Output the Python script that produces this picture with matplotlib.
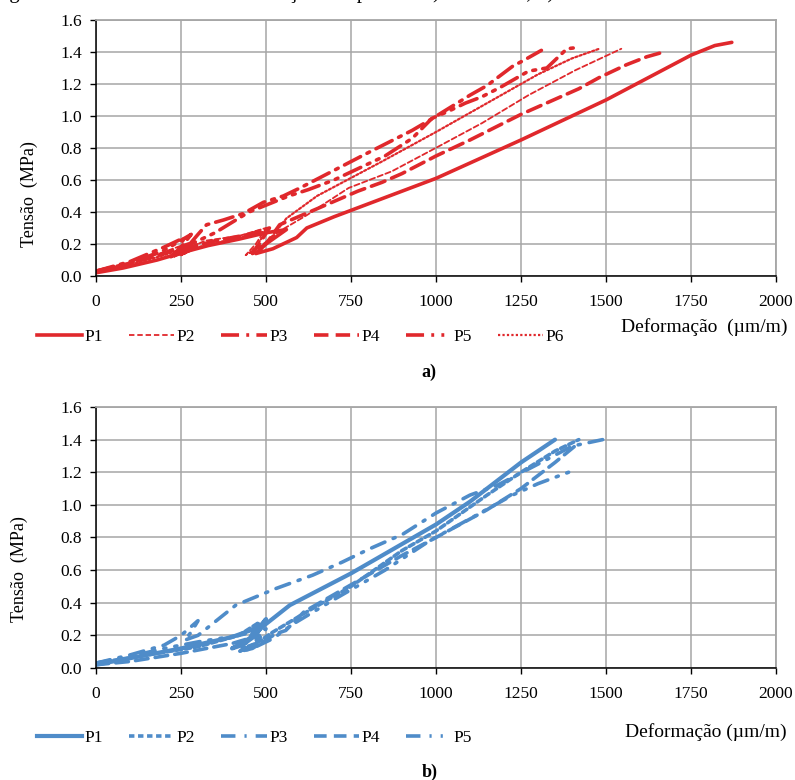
import matplotlib
matplotlib.use("Agg")
import matplotlib.pyplot as plt
from matplotlib.lines import Line2D

plt.rcParams['font.family'] = ['Liberation Serif', 'DejaVu Serif']

# ---------------- data (strain in µm/m, stress in MPa) ----------------
x_ticks = [0, 250, 500, 750, 1000, 1250, 1500, 1750, 2000]
y_ticks = [0.0, 0.2, 0.4, 0.6, 0.8, 1.0, 1.2, 1.4, 1.6]

# a) red series
a_P1_x = [0, 80, 180, 260, 330, 420, 500, 560, 500, 470, 520, 590, 620, 700, 750, 850, 1000, 1250, 1500, 1750, 1820, 1870]
a_P1_y = [0.02, 0.05, 0.10, 0.15, 0.19, 0.23, 0.27, 0.29, 0.20, 0.14, 0.17, 0.24, 0.30, 0.37, 0.41, 0.49, 0.61, 0.85, 1.10, 1.38, 1.44, 1.46]

a_P2_x = [0, 100, 200, 290, 260, 230, 270, 320, 420, 500, 470, 440, 480, 540, 620, 743, 870, 1008, 1135, 1272, 1410, 1545]
a_P2_y = [0.03, 0.08, 0.15, 0.22, 0.15, 0.12, 0.17, 0.22, 0.25, 0.30, 0.20, 0.13, 0.18, 0.28, 0.38, 0.55, 0.654, 0.81, 0.955, 1.13, 1.286, 1.42]

a_P3_x = [0, 100, 200, 260, 240, 220, 260, 300, 325, 375, 433, 492, 551, 600, 700, 800, 930, 990, 1100, 1150, 1225, 1260, 1310]
a_P3_y = [0.03, 0.09, 0.18, 0.24, 0.16, 0.12, 0.16, 0.26, 0.32, 0.35, 0.39, 0.46, 0.50, 0.55, 0.66, 0.77, 0.91, 0.985, 1.13, 1.19, 1.31, 1.35, 1.41]

a_P4_x = [0, 100, 200, 280, 250, 230, 280, 350, 450, 510, 480, 460, 500, 540, 650, 770, 841, 900, 1000, 1100, 1250, 1420, 1480, 1560, 1620, 1670]
a_P4_y = [0.03, 0.08, 0.14, 0.20, 0.14, 0.13, 0.18, 0.22, 0.26, 0.30, 0.20, 0.14, 0.20, 0.32, 0.42, 0.53, 0.585, 0.64, 0.75, 0.85, 1.01, 1.17, 1.24, 1.32, 1.37, 1.40]

a_P5_x = [0, 100, 200, 280, 250, 230, 280, 350, 450, 567, 625, 700, 780, 850, 930, 988, 1037, 1086, 1135, 1190, 1272, 1326, 1385, 1424]
a_P5_y = [0.03, 0.08, 0.16, 0.26, 0.18, 0.13, 0.20, 0.27, 0.40, 0.50, 0.54, 0.60, 0.68, 0.75, 0.86, 0.985, 1.03, 1.08, 1.12, 1.18, 1.28, 1.30, 1.42, 1.43]

a_P6_x = [0, 100, 200, 300, 270, 250, 300, 400, 500, 470, 450, 500, 560, 650, 845, 1000, 1150, 1300, 1400, 1480]
a_P6_y = [0.03, 0.07, 0.13, 0.20, 0.15, 0.13, 0.18, 0.23, 0.28, 0.18, 0.14, 0.20, 0.36, 0.50, 0.72, 0.90, 1.08, 1.26, 1.36, 1.42]

# b) blue series
b_P1_x = [0, 100, 250, 400, 480, 500, 470, 430, 400, 450, 500, 570, 750, 850, 1000, 1100, 1250, 1350]
b_P1_y = [0.02, 0.06, 0.12, 0.19, 0.25, 0.30, 0.20, 0.14, 0.12, 0.18, 0.27, 0.385, 0.58, 0.70, 0.88, 1.02, 1.26, 1.40]

b_P2_x = [0, 150, 300, 420, 480, 450, 430, 470, 520, 600, 750, 900, 1000, 1150, 1250, 1350, 1420]
b_P2_y = [0.03, 0.08, 0.13, 0.20, 0.28, 0.18, 0.12, 0.15, 0.22, 0.32, 0.50, 0.72, 0.84, 1.06, 1.20, 1.33, 1.40]

b_P3_x = [0, 100, 200, 250, 300, 280, 260, 300, 411, 529, 637, 725, 804, 902, 1000, 1100, 1180, 1300, 1400, 1490]
b_P3_y = [0.03, 0.08, 0.14, 0.20, 0.29, 0.22, 0.17, 0.20, 0.385, 0.487, 0.569, 0.65, 0.73, 0.82, 0.95, 1.06, 1.12, 1.25, 1.36, 1.40]

b_P4_x = [0, 100, 250, 400, 480, 460, 420, 460, 529, 558, 612, 775, 900, 1000, 1150, 1250, 1350, 1420]
b_P4_y = [0.02, 0.04, 0.09, 0.15, 0.20, 0.14, 0.10, 0.12, 0.21, 0.23, 0.345, 0.54, 0.69, 0.80, 0.97, 1.10, 1.26, 1.38]

b_P5_x = [0, 100, 200, 300, 420, 500, 470, 420, 460, 520, 580, 700, 850, 981, 1113, 1225, 1300, 1390]
b_P5_y = [0.03, 0.07, 0.12, 0.16, 0.20, 0.24, 0.15, 0.10, 0.12, 0.18, 0.27, 0.42, 0.60, 0.78, 0.93, 1.06, 1.13, 1.20]

labels_a = ['P1', 'P2', 'P3', 'P4', 'P5', 'P6']
labels_b = ['P1', 'P2', 'P3', 'P4', 'P5']

RED = '#E0282C'
BLUE = '#4F8CC9'
GRID = '#A6A6A6'

styles_a = [
    dict(lw=2.6, ls='-'),
    dict(lw=1.3, ls=(0, (3, 1.6))),
    dict(lw=2.6, ls=(0, (5, 2, 0.8, 2))),
    dict(lw=2.6, ls=(0, (4, 2))),
    dict(lw=2.6, ls=(0, (5, 2, 0.8, 2, 0.8, 2))),
    dict(lw=1.6, ls=(0, (1, 1))),
]
styles_b = [
    dict(lw=3.0, ls='-'),
    dict(lw=2.6, ls=(0, (1.5, 1))),
    dict(lw=2.6, ls=(0, (4, 2.5, 0.6, 2.5))),
    dict(lw=2.6, ls=(0, (3.5, 2))),
    dict(lw=2.6, ls=(0, (4, 2.5, 0.6, 2.5, 0.6, 2.5))),
]

fig = plt.figure(figsize=(7.95, 7.80), dpi=100)


def style_axes(ax):
    ax.set_xlim(0, 2000)
    ax.set_ylim(0, 1.6)
    ax.set_xticks(x_ticks)
    ax.set_yticks(y_ticks)
    ax.set_xticklabels([str(v) for v in x_ticks], fontsize=12.5)
    ax.set_yticklabels([f'{v:.1f}' for v in y_ticks], fontsize=12.5)
    ax.grid(True, color=GRID, lw=1.1)
    ax.set_axisbelow(True)
    for s in ['top', 'right']:
        ax.spines[s].set_color(GRID)
        ax.spines[s].set_linewidth(1.3)
    for s in ['left', 'bottom']:
        ax.spines[s].set_color('black')
        ax.spines[s].set_linewidth(1.1)
    ax.tick_params(axis='both', direction='out', length=4, width=1, color='black', pad=6)
    ax.tick_params(axis='x', pad=9)


leg_kw = dict(frameon=False, fontsize=12.5, handlelength=2.6, handletextpad=0.15,
              columnspacing=1.5, borderpad=0.2, borderaxespad=0.0)

# ---- a) ----
ax1 = fig.add_axes([0.1208, 0.6462, 0.8553, 0.3282])
style_axes(ax1)
series_a = [(a_P1_x, a_P1_y), (a_P2_x, a_P2_y), (a_P3_x, a_P3_y),
            (a_P4_x, a_P4_y), (a_P5_x, a_P5_y), (a_P6_x, a_P6_y)]
handles_a = []
for (xs, ys), st, lab in zip(series_a, styles_a, labels_a):
    ax1.plot(xs, ys, color=RED, linewidth=st['lw'], linestyle=st['ls'],
             solid_capstyle='round', dash_capstyle='round')
    handles_a.append(Line2D([], [], color=RED, linewidth=st['lw'], linestyle=st['ls']))
ax1.set_ylabel('Tensão  (MPa)', fontsize=13, labelpad=8)
ax1.yaxis.set_label_coords(-0.085, 0.32)

fig.text(0.99, 0.581, 'Deformação  (µm/m)', fontsize=14, ha='right', va='center')
fig.legend(handles_a, labels_a, loc='center left', bbox_to_anchor=(0.042, 0.568),
           ncol=6, **leg_kw)
fig.text(0.54, 0.523, 'a)', fontsize=13, weight='bold', ha='center', va='center')

# ---- b) ----
ax2 = fig.add_axes([0.1208, 0.1436, 0.8553, 0.3346])
style_axes(ax2)
series_b = [(b_P1_x, b_P1_y), (b_P2_x, b_P2_y), (b_P3_x, b_P3_y),
            (b_P4_x, b_P4_y), (b_P5_x, b_P5_y)]
handles_b = []
for (xs, ys), st, lab in zip(series_b, styles_b, labels_b):
    ax2.plot(xs, ys, color=BLUE, linewidth=st['lw'], linestyle=st['ls'],
             solid_capstyle='round', dash_capstyle='round')
    handles_b.append(Line2D([], [], color=BLUE, linewidth=st['lw'], linestyle=st['ls']))
ax2.set_ylabel('Tensão  (MPa)', fontsize=13, labelpad=8)
ax2.yaxis.set_label_coords(-0.1, 0.38)

fig.text(0.99, 0.062, 'Deformação (µm/m)', fontsize=14, ha='right', va='center')
fig.legend(handles_b, labels_b, loc='center left', bbox_to_anchor=(0.042, 0.054),
           ncol=5, **leg_kw)
fig.text(0.54, 0.010, 'b)', fontsize=13, weight='bold', ha='center', va='center')

# partially cropped caption at the very top
fig.text(-0.01, 1.009, 'Figura 32 – Curvas tensão-deformação dos pilares: a) Série P30; b) Série P40',
         fontsize=15, ha='left', va='center')

fig.savefig('out.png', dpi=100)
